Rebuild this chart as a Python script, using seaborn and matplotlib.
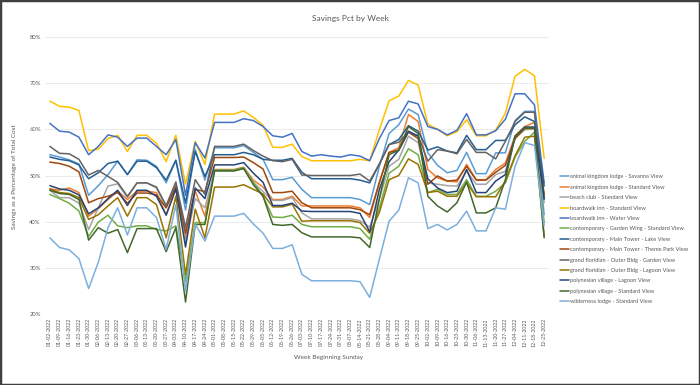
import matplotlib
matplotlib.use("Agg")
import matplotlib.pyplot as plt
from matplotlib.ticker import PercentFormatter
from matplotlib.patches import Rectangle
import seaborn as sns
import pandas as pd

weeks = ["01-02-2022", "01-09-2022", "01-16-2022", "01-23-2022", "01-30-2022", "02-06-2022",
         "02-13-2022", "02-20-2022", "02-27-2022", "03-06-2022", "03-13-2022", "03-20-2022",
         "03-27-2022", "04-03-2022", "04-10-2022", "04-17-2022", "04-24-2022", "05-01-2022",
         "05-08-2022", "05-15-2022", "05-22-2022", "05-29-2022", "06-05-2022", "06-12-2022",
         "06-19-2022", "06-26-2022", "07-03-2022", "07-10-2022", "07-17-2022", "07-24-2022",
         "07-31-2022", "08-07-2022", "08-14-2022", "08-21-2022", "08-28-2022", "09-04-2022",
         "09-11-2022", "09-18-2022", "09-25-2022", "10-02-2022", "10-09-2022", "10-16-2022",
         "10-23-2022", "10-30-2022", "11-06-2022", "11-13-2022", "11-20-2022", "11-27-2022",
         "12-04-2022", "12-11-2022", "12-18-2022", "12-25-2022"]

akl_savanna = [54.5, 54.0, 53.4, 52.5, 45.7, 47.8, 50.2, 53.1, 50.2, 53.4, 53.3, 52.0, 48.4, 53.3,
               42.5, 55.6, 49.0,
               56.0, 56.0, 56.0, 56.5, 55.0, 53.5, 49.1, 49.1, 49.6,
               47.0, 45.2, 45.2, 45.2, 45.2, 45.2, 44.8, 43.7,
               52.0, 59.1, 61.0, 64.4, 63.2,
               54.9, 52.2, 50.6, 51.1, 55.0, 50.4, 50.4, 54.9, 54.9, 61.9, 63.9, 63.9, 41.5]
akl_standard = [47.1, 46.8, 47.3, 46.3, 41.2, 42.8, 44.8, 46.6, 44.8, 46.6, 46.6, 46.3, 41.5, 47.1,
                36.5, 46.6, 41.2,
                51.3, 51.3, 51.3, 51.8, 49.0, 47.5, 44.8, 44.8, 45.5,
                43.4, 43.4, 43.4, 43.4, 43.4, 43.4, 43.0, 40.9,
                48.5, 55.0, 56.0, 63.2, 61.7,
                51.3, 49.5, 48.8, 48.6, 52.4, 49.1, 49.1, 51.3, 52.7, 58.6, 60.6, 61.5, 45.5]
beach_club = [46.8, 45.2, 45.2, 44.0, 38.3, 43.0, 47.7, 48.2, 45.2, 48.4, 48.4, 47.3, 43.0, 48.3,
              35.5, 45.0, 43.0,
              51.0, 51.0, 51.0, 51.5, 48.5, 46.5, 44.6, 44.6, 45.2,
              41.9, 40.6, 40.6, 40.6, 40.6, 40.6, 40.2, 38.8,
              45.0, 52.0, 53.5, 58.5, 57.1,
              48.4, 48.1, 47.8, 47.7, 50.9, 48.1, 48.1, 50.2, 50.9, 58.1, 59.9, 60.1, 44.1]
boardwalk_std = [66.1, 65.0, 64.8, 64.1, 55.4, 55.7, 58.0, 58.7, 55.2, 58.7, 58.7, 57.0, 53.0, 58.7,
                 48.1, 57.4, 52.4,
                 63.3, 63.3, 63.3, 64.0, 62.6, 60.9, 56.1, 56.1, 56.8,
                 54.1, 53.2, 53.2, 53.2, 53.2, 53.2, 53.5, 53.2,
                 59.9, 66.2, 67.2, 70.6, 69.6,
                 61.1, 60.0, 58.6, 59.5, 62.1, 58.6, 58.6, 59.8, 63.5, 71.5, 73.0, 71.6, 53.7]
boardwalk_water = [61.3, 59.6, 59.4, 58.3, 54.5, 56.3, 58.8, 58.3, 56.3, 58.1, 58.1, 56.3, 54.5, 57.8,
                   45.7, 57.1, 53.8,
                   61.5, 61.5, 61.5, 62.3, 61.9, 60.6, 58.6, 58.3, 59.1,
                   55.2, 54.2, 54.5, 54.2, 54.0, 54.5, 54.2, 53.2,
                   58.0, 61.9, 62.5, 66.1, 65.5,
                   60.6, 60.0, 58.8, 59.8, 63.4, 58.8, 58.8, 59.7, 62.2, 67.7, 67.7, 65.3, 48.4]
cont_garden = [45.9, 45.0, 44.0, 42.3, 36.8, 39.9, 41.4, 39.1, 38.7, 39.1, 39.1, 38.3, 38.0, 39.1,
               27.0, 39.8, 39.8,
               51.2, 51.2, 51.2, 51.7, 48.5, 45.5, 41.0, 40.9, 41.4,
               39.4, 38.9, 38.9, 38.9, 38.9, 38.9, 38.5, 36.2,
               43.0, 50.5, 52.0, 55.8, 54.5,
               46.3, 47.0, 45.9, 45.9, 49.1, 45.5, 45.5, 46.6, 48.4, 54.0, 57.4, 59.4, 39.8]
cont_lake = [54.0, 53.5, 53.2, 52.3, 49.3, 50.6, 52.6, 53.1, 50.2, 53.1, 53.1, 51.7, 49.0, 53.3,
             44.0, 55.2, 49.8,
             54.5, 54.5, 54.5, 55.0, 54.5, 53.5, 53.3, 53.3, 53.7,
             50.7, 49.3, 49.3, 49.3, 49.3, 49.3, 49.0, 48.4,
             52.5, 56.7, 57.8, 60.8, 59.6,
             55.5, 56.2, 55.3, 54.9, 58.7, 55.6, 55.6, 57.6, 57.6, 61.0, 62.7, 61.7, 47.7]
cont_theme_park = [52.9, 52.6, 52.0, 50.8, 44.1, 45.0, 45.5, 46.3, 44.0, 46.2, 46.2, 45.8, 43.0, 47.6,
                   37.5, 47.0, 46.5,
                   53.9, 53.9, 53.9, 54.0, 52.8, 51.4, 46.3, 46.3, 46.6,
                   44.1, 43.0, 43.0, 43.0, 43.0, 43.0, 42.6, 41.5,
                   48.5, 55.0, 55.5, 59.4, 58.0,
                   48.1, 49.9, 48.8, 49.0, 52.0, 49.0, 49.0, 50.7, 52.2, 58.0, 60.2, 60.2, 46.0]
gf_garden = [56.3, 54.8, 54.7, 53.5, 50.1, 51.1, 49.8, 48.5, 45.5, 48.4, 48.4, 47.5, 43.5, 48.6,
             38.7, 49.1, 45.9,
             56.3, 56.3, 56.3, 56.8, 55.4, 54.2, 53.2, 53.0, 53.5,
             50.1, 50.0, 50.0, 50.0, 50.0, 50.0, 50.3, 48.8,
             52.5, 56.7, 57.2, 59.4, 58.6,
             53.1, 55.6, 55.3, 54.7, 57.8, 55.0, 55.0, 53.6, 57.4, 61.7, 63.7, 63.7, 44.8]
gf_lagoon = [47.1, 46.3, 46.1, 45.2, 40.5, 41.5, 43.4, 45.2, 41.2, 45.2, 45.2, 43.7, 36.5, 45.5,
             28.5, 42.7, 36.5,
             47.5, 47.5, 47.5, 48.0, 47.0, 46.0, 43.2, 43.2, 43.8,
             40.1, 40.2, 40.2, 40.2, 40.2, 40.2, 39.8, 37.5,
             42.0, 49.1, 50.0, 53.6, 52.4,
             46.3, 46.6, 45.5, 45.5, 48.4, 45.4, 45.4, 45.4, 48.8, 54.3, 58.3, 58.5, 36.9]
poly_lagoon = [47.8, 47.1, 46.8, 45.8, 41.7, 43.0, 45.0, 46.8, 43.5, 46.8, 46.8, 45.5, 41.4, 47.1,
               34.5, 47.3, 45.0,
               52.3, 52.3, 52.3, 52.8, 50.5, 48.5, 43.5, 43.5, 44.0,
               42.3, 42.2, 42.2, 42.2, 42.2, 42.2, 41.8, 37.8,
               47.0, 53.0, 55.5, 59.6, 58.5,
               49.3, 47.3, 46.3, 46.6, 51.3, 46.3, 46.3, 48.8, 50.2, 58.5, 60.5, 60.5, 45.0]
poly_standard = [46.8, 46.1, 45.9, 44.8, 36.0, 38.7, 37.5, 38.3, 33.3, 38.5, 38.5, 38.5, 33.5, 38.7,
                 22.6, 39.4, 39.4,
                 51.0, 51.0, 51.0, 51.5, 48.0, 45.5, 39.4, 39.2, 39.4,
                 37.6, 36.7, 36.7, 36.7, 36.7, 36.7, 36.5, 34.4,
                 45.0, 54.5, 55.5, 60.6, 59.1,
                 45.5, 43.4, 42.1, 44.1, 48.6, 41.9, 41.9, 43.0, 49.1, 58.5, 60.3, 60.3, 36.5]
wilderness = [36.5, 34.4, 33.9, 32.0, 25.5, 31.2, 38.7, 43.0, 37.1, 43.0, 43.0, 40.9, 34.0, 43.7,
              25.0, 39.5, 35.8,
              41.2, 41.2, 41.2, 41.8, 39.5, 37.5, 34.2, 34.2, 35.0,
              28.6, 27.2, 27.2, 27.2, 27.2, 27.2, 27.0, 23.6,
              31.9, 40.1, 42.5, 49.5, 48.4,
              38.5, 39.4, 38.2, 39.4, 42.3, 38.0, 38.0, 43.0, 42.7, 52.0, 57.1, 56.5, 39.1]

resorts = ["animal kingdom lodge - Savanna View", "animal kingdom lodge - Standard View",
           "beach club - Standard View", "boardwalk inn - Standard View", "boardwalk inn - Water View",
           "contemporary - Garden Wing - Standard View", "contemporary - Main Tower - Lake View",
           "contemporary - Main Tower - Theme Park View", "grand floridian - Outer Bldg - Garden View",
           "grand floridian - Outer Bldg - Lagoon View", "polynesian village - Lagoon View",
           "polynesian village - Standard View", "wilderness lodge - Standard View"]
series = [akl_savanna, akl_standard, beach_club, boardwalk_std, boardwalk_water, cont_garden,
          cont_lake, cont_theme_park, gf_garden, gf_lagoon, poly_lagoon, poly_standard, wilderness]

colors = ["#5B9BD5", "#ED7D31", "#A5A5A5", "#FFC000", "#4472C4", "#70AD47", "#255E91",
          "#9E480E", "#636363", "#997300", "#264478", "#43682B", "#7CAFDD"]

frames = []
for name, vals in zip(resorts, series):
    frames.append(pd.DataFrame({"week": weeks, "pct": vals, "resort": name}))
df = pd.concat(frames, ignore_index=True)

sns.set_theme(style="white")
plt.rcParams["font.family"] = ["Lato", "DejaVu Sans"]
txt = "#595959"

fig = plt.figure(figsize=(7, 3.85), dpi=100)
ax = fig.add_axes([45 / 700, 1 - 314 / 385, 504 / 700, 277 / 385])

sns.lineplot(data=df, x="week", y="pct", hue="resort", hue_order=resorts, palette=colors,
             linewidth=1.1, sort=False, ax=ax)

ax.set_xlim(-0.5, len(weeks) - 0.5)
ax.set_ylim(20, 80)
ax.set_yticks([20, 30, 40, 50, 60, 70, 80])
ax.yaxis.set_major_formatter(PercentFormatter(100, decimals=0))
ax.grid(axis="y", color="#EBEBEB", linewidth=0.7)
ax.set_axisbelow(True)
for s in ax.spines.values():
    s.set_visible(False)
ax.tick_params(axis="both", length=0, colors=txt)
ax.tick_params(axis="y", labelsize=4.2, pad=3)
ax.tick_params(axis="x", labelsize=3.8, rotation=90, pad=3)
ax.set_xlabel("")
ax.set_ylabel("")

fig.text(0.5, 1 - 18 / 385, "Savings Pct by Week", ha="center", va="center", fontsize=6, color=txt)
fig.text(329 / 700, 1 - 357 / 385, "Week Beginning Sunday", ha="center", va="center",
         fontsize=4.6, color=txt)
fig.text(15 / 700, 1 - 177 / 385, "Savings as a Percentage of Total Cost", ha="center",
         va="center", rotation=90, fontsize=4.6, color=txt)

sns.move_legend(ax, loc="upper left", bbox_to_anchor=(558 / 700, 1 - 172 / 385),
                bbox_transform=fig.transFigure, frameon=False, title=None, fontsize=4.1,
                handlelength=1.6, handletextpad=0.1, labelspacing=0.95, borderaxespad=0)
for t in ax.get_legend().get_texts():
    t.set_color(txt)

fig.patches.append(Rectangle((0, 0), 1, 1, transform=fig.transFigure, fill=False,
                             edgecolor="#404040", linewidth=2.5))

fig.savefig("out.png", dpi=100)
